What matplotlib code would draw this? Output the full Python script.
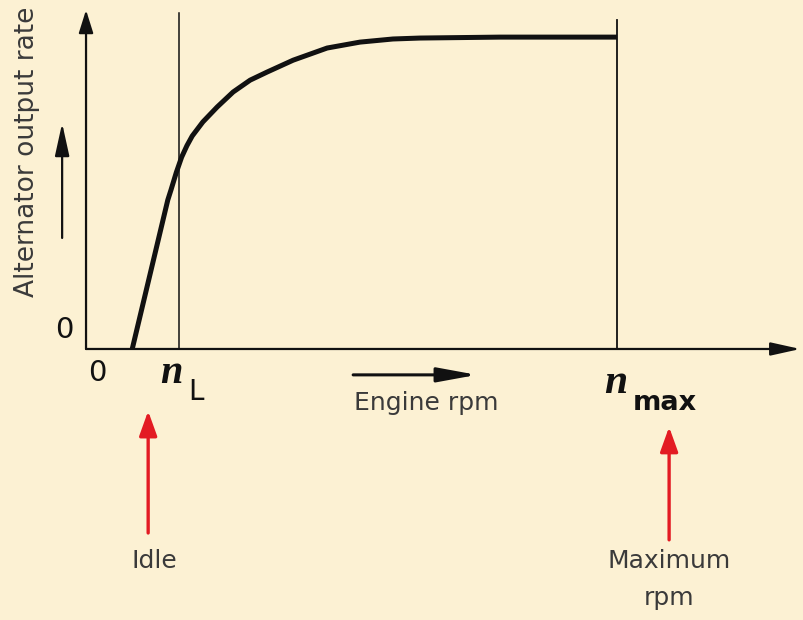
import matplotlib.pyplot as plt

# alternator output vs engine speed (output normalised to 1 at full output, rpm to 1 at n_max)
n_L = 0.175
n_max = 1.0
rpm = [0.087, 0.154, 0.160, 0.170, 0.180, 0.190, 0.200, 0.220, 0.247, 0.277,
       0.309, 0.341, 0.390, 0.454, 0.516, 0.578, 0.629, 0.78, 1.0]
output = [0.0, 0.478, 0.510, 0.566, 0.615, 0.652, 0.683, 0.728, 0.776, 0.824,
          0.862, 0.888, 0.926, 0.965, 0.984, 0.994, 0.997, 1.0, 1.0]

bg = '#fcf1d3'
ink = '#111111'
grey = '#3a3a3a'
red = '#e31b23'

fig = plt.figure(figsize=(8.04, 6.20), dpi=100, facecolor=bg)
ax = fig.add_axes([0, 0, 1, 1])
ax.set_facecolor(bg)
ax.set_xlim(-0.162, 1.352)
ax.set_ylim(-0.869, 1.119)
ax.axis('off')

def arrow(x0, y0, x1, y1, color, lw, hl, hw):
    ax.annotate('', xy=(x1, y1), xytext=(x0, y0),
                arrowprops=dict(arrowstyle=f'-|>,head_length={hl},head_width={hw}',
                                color=color, lw=lw, shrinkA=0, shrinkB=0,
                                mutation_scale=20))

# axes
arrow(0, 0, 0, 1.087, ink, 1.6, 0.7, 0.22)
arrow(0, 0, 1.345, 0, ink, 1.6, 0.9, 0.2)

# reference speeds
ax.plot([n_L, n_L], [0, 1.077], color=ink, lw=1.1)
ax.plot([n_max, n_max], [0, 1.054], color=ink, lw=1.3)

# characteristic curve
ax.plot(rpm, output, color=ink, lw=3.6, solid_capstyle='butt', solid_joinstyle='round')

# axis labels
ax.text(-0.111, 0.631, 'Alternator output rate', rotation=90, fontsize=19,
        color=grey, ha='center', va='center')
arrow(-0.045, 0.356, -0.045, 0.724, ink, 1.6, 1.0, 0.22)
ax.text(-0.040, 0.061, '0', fontsize=21, color=ink, ha='center', va='center')
ax.text(0.021, -0.078, '0', fontsize=21, color=ink, ha='center', va='center')

ax.text(n_L + 0.006, -0.108, 'n', family='Liberation Serif', style='italic',
        weight='bold', fontsize=29, color=ink, ha='right', va='baseline')
ax.text(n_L + 0.018, -0.165, 'L', fontsize=20, color=ink, ha='left', va='baseline')
ax.text(n_max + 0.020, -0.141, 'n', family='Liberation Serif', style='italic',
        weight='bold', fontsize=30, color=ink, ha='right', va='baseline')
ax.text(n_max + 0.030, -0.196, 'max', fontsize=19.5, weight='bold', color=ink,
        ha='left', va='baseline')

arrow(0.503, -0.083, 0.736, -0.083, ink, 2.2, 1.2, 0.22)
ax.text(0.64, -0.173, 'Engine rpm', fontsize=18, color=grey, ha='center', va='center')

# red pointers
arrow(0.117, -0.59, 0.117, -0.199, red, 2.4, 0.75, 0.27)
ax.text(0.129, -0.681, 'Idle', fontsize=18, color=grey, ha='center', va='center')
arrow(1.098, -0.612, 1.098, -0.25, red, 2.4, 0.75, 0.27)
ax.text(1.098, -0.681, 'Maximum', fontsize=18, color=grey, ha='center', va='center')
ax.text(1.098, -0.797, 'rpm', fontsize=18, color=grey, ha='center', va='center')

fig.savefig('out.png', dpi=100, facecolor=bg)
